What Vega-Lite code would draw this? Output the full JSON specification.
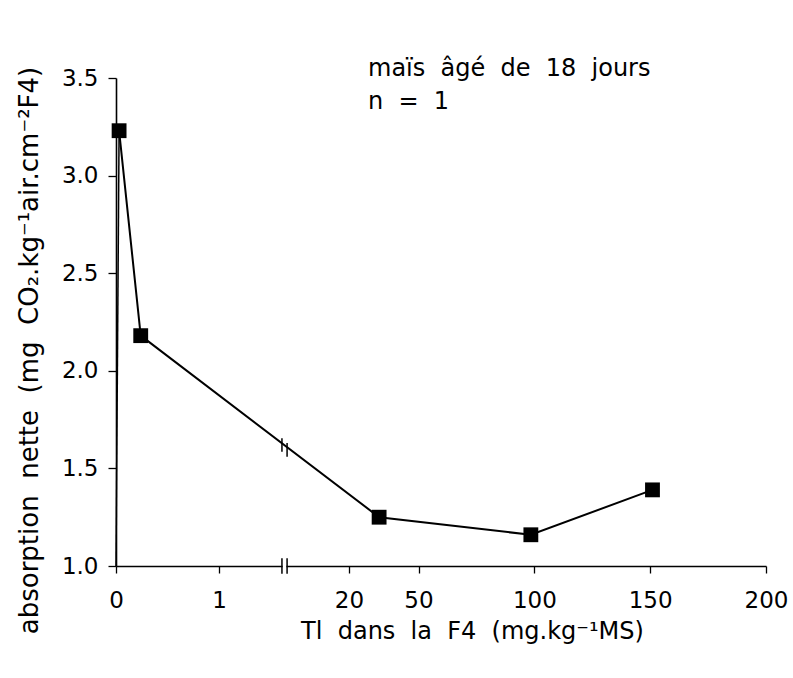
{
  "$schema": "https://vega.github.io/schema/vega-lite/v6.json",
  "autosize": {"type": "none"},
  "width": 650,
  "height": 488,
  "padding": {"left": 116, "top": 78, "right": 27, "bottom": 112},
  "background": "white",
  "config": {
    "view": {"stroke": null},
    "font": "DejaVu Sans",
    "axis": {"grid": false, "labelFlush": false, "domainColor": "black", "tickColor": "black", "labelColor": "black", "titleColor": "black", "domainWidth": 1.6, "tickWidth": 1.3, "labelFont": "DejaVu Sans", "titleFont": "DejaVu Sans"}
  },
  "datasets": {
    "points": [
      {"tl": 0.03, "absorption": 3.23},
      {"tl": 0.24, "absorption": 2.18},
      {"tl": 33, "absorption": 1.25},
      {"tl": 98.5, "absorption": 1.16},
      {"tl": 151, "absorption": 1.39}
    ],
    "lead": [
      {"tl": 0, "absorption": 1.0, "tl2": 0.03, "absorption2": 3.23}
    ],
    "breaks": [
      {"tl": 10.2, "lo": 1.585, "hi": 1.655},
      {"tl": 10.95, "lo": 1.56, "hi": 1.63},
      {"tl": 10.2, "lo": 0.96, "hi": 1.04},
      {"tl": 10.95, "lo": 0.96, "hi": 1.04}
    ],
    "gaps": [
      {"tl": 10.3, "tl2": 10.85, "absorption": 1.0}
    ],
    "notes": [
      {"tl": 28.2, "absorption": 3.545, "label": "maïs\u00a0 âgé\u00a0 de\u00a0 18\u00a0 jours"},
      {"tl": 28.2, "absorption": 3.375, "label": "n\u00a0 =\u00a0 1"}
    ]
  },
  "encoding": {
    "x": {
      "field": "tl",
      "type": "quantitative",
      "scale": {"domain": [0, 1, 20, 200], "range": [0, 103, 233, 650], "nice": false, "zero": false},
      "axis": {
        "title": "Tl\u00a0 dans\u00a0 la\u00a0 F4\u00a0 (mg.kg⁻¹MS)",
        "titleX": 356,
        "titleAlign": "center",
        "values": [0, 1, 20, 50, 100, 150, 200],
        "format": "d",
        "labelFontSize": 23,
        "labelPadding": 16,
        "tickSize": 7,
        "titleFontSize": 24,
        "titleFontWeight": "normal",
        "titlePadding": 7
      }
    },
    "y": {
      "field": "absorption",
      "type": "quantitative",
      "scale": {"domain": [1, 3.5], "nice": false, "zero": false},
      "axis": {
        "title": "absorption\u00a0 nette\u00a0 (mg\u00a0 CO₂.kg⁻¹air.cm⁻²F4)",
        "titleY": 272,
        "titleAlign": "center",
        "values": [1, 1.5, 2, 2.5, 3, 3.5],
        "format": ".1f",
        "labelFontSize": 23,
        "labelPadding": 10,
        "tickSize": 8,
        "titleFontSize": 26,
        "titleFontWeight": "normal",
        "titlePadding": 19
      }
    }
  },
  "layer": [
    {
      "data": {"name": "lead"},
      "mark": {"type": "rule", "color": "black", "strokeWidth": 1.5},
      "encoding": {
        "x2": {"field": "tl2"},
        "y2": {"field": "absorption2"}
      }
    },
    {
      "data": {"name": "points"},
      "mark": {"type": "line", "color": "black", "strokeWidth": 2},
      "encoding": {}
    },
    {
      "data": {"name": "points"},
      "mark": {"type": "square", "color": "black", "filled": true, "size": 220, "opacity": 1},
      "encoding": {}
    },
    {
      "data": {"name": "gaps"},
      "mark": {"type": "rule", "color": "white", "strokeWidth": 4},
      "encoding": {"x2": {"field": "tl2"}}
    },
    {
      "data": {"name": "breaks"},
      "mark": {"type": "rule", "color": "black", "strokeWidth": 1.5},
      "encoding": {
        "y": {"field": "lo", "type": "quantitative"},
        "y2": {"field": "hi"}
      }
    },
    {
      "data": {"name": "notes"},
      "mark": {"type": "text", "align": "left", "baseline": "middle", "fontSize": 24, "color": "black"},
      "encoding": {"text": {"field": "label"}}
    }
  ]
}
